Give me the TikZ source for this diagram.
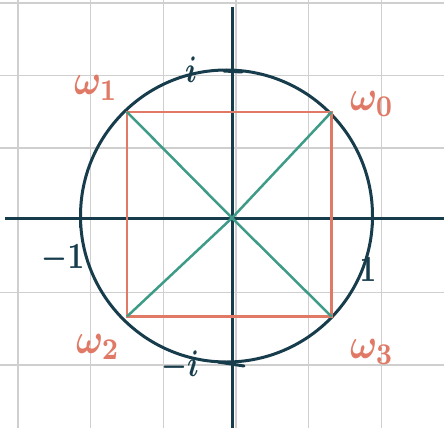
\documentclass[tikz,border=0pt]{standalone}
\usepackage{graphicx}
\usetikzlibrary{positioning}
\definecolor{navy}{HTML}{173D4C}
\definecolor{salmon}{HTML}{E07A66}
\definecolor{teal}{HTML}{3E9B87}
\definecolor{gridgray}{HTML}{CFCFCF}
\newcommand{\rootlbl}[1]{\scalebox{3.6}[4.3]{\boldmath$#1$}}
\newcommand{\unitlbl}[1]{\scalebox{2.9}[3.7]{\boldmath$#1$}}
\tikzset{
  rootlabel/.style={text=salmon,inner sep=0pt},
  unitlabel/.style={text=navy,inner sep=0pt},
  tick/.style={navy,line width=3pt,line cap=round}
}
\begin{document}
\begin{tikzpicture}[x=1pt,y=-1pt]
    \useasboundingbox (0,0) rectangle (444,428);
    % grid
    \foreach \gx in {18,90.7,163.4,236.1,308.8,381.5}
      \draw[gridgray,line width=1.3pt] (\gx,0) -- (\gx,428);
    \foreach \gy in {3,75.5,148,292.5,365}
      \draw[gridgray,line width=1.3pt] (0,\gy) -- (444,\gy);
    % axes
    \coordinate (O) at (232,218);
    \draw[navy,line width=3pt] (5,218) -- (444,218);
    \draw[navy,line width=3pt] (232,7) -- (232,428);
    % unit circle
    \draw[navy,line width=3pt] (226.5,216) circle (146);
    \draw[tick] (80,211) -- (80,227);
    \draw[tick] (372,211) -- (372,225);
    \draw[tick] (224,71) -- (242,72);
    \draw[tick] (218,362) -- (244,366);
    % roots of unity
    \coordinate (W0) at (331.5,112);
    \coordinate (W1) at (127,112);
    \coordinate (W2) at (127,316.5);
    \coordinate (W3) at (331.5,316.5);
    \draw[salmon,line width=2.6pt] (W0) -- (W1) -- (W2) -- (W3) -- cycle;
    \draw[teal,line width=2.5pt] (W0) -- (O) -- (W2);
    \draw[teal,line width=2.5pt] (W1) -- (O) -- (W3);
    % labels
    \node[rootlabel] (l1) at (96,88) {\rootlbl{\omega_1}};
    \node[rootlabel] (l0) at (372,104) {\rootlbl{\omega_0}};
    \node[rootlabel] (l2) at (98,347) {\rootlbl{\omega_2}};
    \node[rootlabel] (l3) at (372,352) {\rootlbl{\omega_3}};
    \node[unitlabel] (li) at (191,70) {\unitlbl{i}};
    \node[unitlabel] (lmi) at (180,366) {\unitlbl{-i}};
    \node[unitlabel] (lm1) at (63,259) {\unitlbl{-1}};
    \node[unitlabel] (l1p) at (368,270) {\unitlbl{1}};
\end{tikzpicture}
\end{document}
